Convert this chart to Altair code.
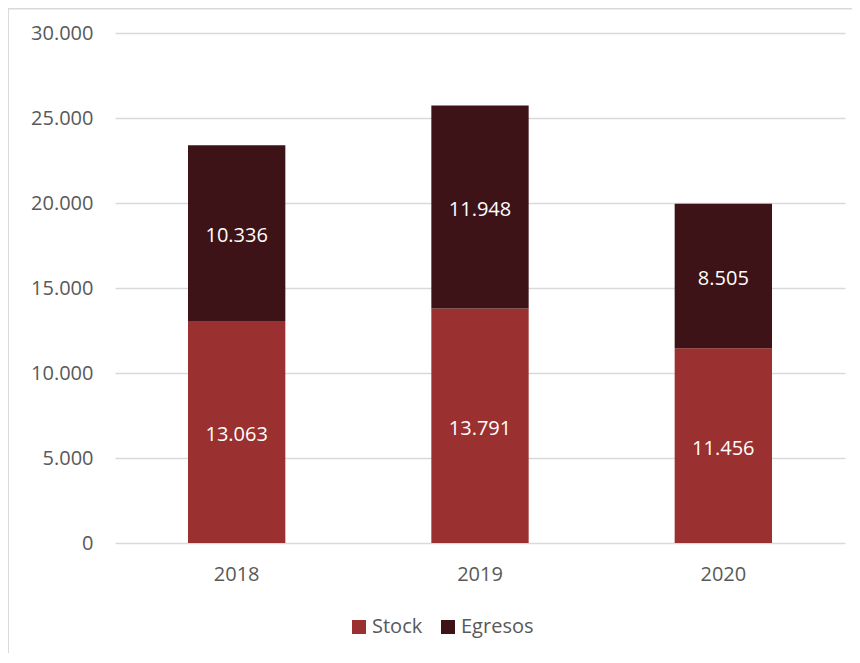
import altair as alt
import pandas as pd

years = ["2018", "2019", "2020"]
stock = [13063, 13791, 11456]
egresos = [10336, 11948, 8505]
series = ["Stock", "Egresos"]
colors = ["#9A302F", "#3E1317"]
y_ticks = [0, 5000, 10000, 15000, 20000, 25000, 30000]

df = pd.DataFrame({
    "year": years * 2,
    "serie": [series[0]] * 3 + [series[1]] * 3,
    "value": stock + egresos,
    "ord": [0] * 3 + [1] * 3,
})

FONT = "Open Sans"
GRAY = "#595959"

base = alt.Chart(df)

xenc = alt.X("year:N", sort=years,
             scale=alt.Scale(paddingInner=0.6, paddingOuter=0.3),
             axis=alt.Axis(title=None, labelAngle=0, domain=False, ticks=False,
                           labelPadding=21, labelFontSize=20, labelColor=GRAY,
                           labelFont=FONT))

bars = base.mark_bar().encode(
    x=xenc,
    y=alt.Y("value:Q", stack="zero",
            scale=alt.Scale(domain=[0, 30000], nice=False),
            axis=alt.Axis(title=None, values=y_ticks, domain=False, ticks=False,
                          grid=True, gridColor="#d9d9d9", gridWidth=1.5,
                          labelPadding=22, labelFontSize=20, labelColor=GRAY,
                          labelFont=FONT,
                          labelExpr="replace(format(datum.value, ','), ',', '.')")),
    color=alt.Color("serie:N",
                    scale=alt.Scale(domain=series, range=colors),
                    legend=alt.Legend(title=None, orient="none", legendX=234,
                                      legendY=584, direction="horizontal",
                                      symbolType="square", symbolSize=196,
                                      symbolStrokeWidth=0, labelFontSize=20,
                                      labelColor=GRAY, labelFont=FONT,
                                      columnPadding=15, labelOffset=3,
                                      padding=0)),
    order=alt.Order("ord:Q", sort="ascending"),
)

labels = base.transform_stack(
    stack="value", as_=["v0", "v1"], groupby=["year"],
    sort=[alt.SortField("ord", order="ascending")]
).transform_calculate(
    mid="(datum.v0 + datum.v1) / 2",
    lab="replace(format(datum.value, ','), ',', '.')"
).mark_text(color="white", fontSize=20, font=FONT, dy=3).encode(
    x=alt.X("year:N", sort=years),
    y=alt.Y("mid:Q"),
    text="lab:N",
)

border_df = pd.DataFrame({"a": [0]})
top_border = alt.Chart(border_df).mark_rule(color="#d9d9d9", strokeWidth=1.5).encode(
    x=alt.value(-107), x2=alt.value(737), y=alt.value(-24.2))
left_border = alt.Chart(border_df).mark_rule(color="#d9d9d9", strokeWidth=1.5).encode(
    x=alt.value(-106.8), y=alt.value(-25), y2=alt.value(620))

chart = alt.layer(bars, labels, top_border, left_border).properties(
    width=730, height=510,
    autosize=alt.AutoSizeParams(type="none"),
    padding={"left": 107, "top": 25, "right": 7, "bottom": 110},
).configure_view(stroke=None)

chart.save("out.html", embed_options={"renderer": "svg", "actions": False})
